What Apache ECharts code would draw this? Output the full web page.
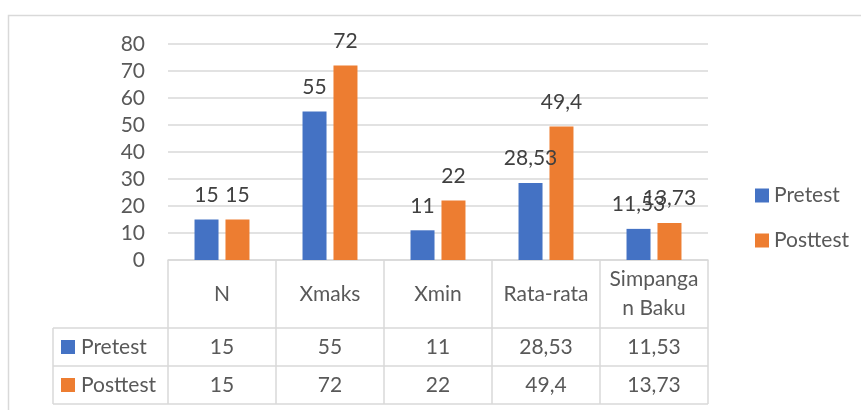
<!DOCTYPE html>
<html>
<head>
<meta charset="utf-8">
<script src="https://cdn.jsdelivr.net/npm/echarts@6/dist/echarts.min.js"></script>
<style>
    html, body { margin: 0; padding: 0; background: #fff; }
    #chart { width: 861px; height: 410px; }
</style>
</head>
<body>
<div id="chart"></div>
<script>
// data
var categories = ['N', 'Xmaks', 'Xmin', 'Rata-rata', 'Simpangan Baku'];
var seriesNames = ['Pretest', 'Posttest'];
var pretest = [15, 55, 11, 28.53, 11.53];
var posttest = [15, 72, 22, 49.4, 13.73];
var yMin = 0, yMax = 80, yStep = 10;

var colors = ['#4472C4', '#ED7D31'];
var FONT = 'Lato, "Open Sans", sans-serif';
var GRID_COLOR = '#D9D9D9';
var TEXT_COLOR = '#595959';

// 1,5 -> "1,5" (koma desimal)
function fmt(v) {
    return String(v).replace('.', ',');
}

var chart = echarts.init(document.getElementById('chart'));

chart.setOption({
    animation: false,
    color: colors,
    textStyle: { fontFamily: FONT },
    grid: {
        left: 168,
        right: 153,
        top: 44,
        bottom: 150
    },
    legend: {
        data: seriesNames,
        orient: 'vertical',
        left: 750,
        top: 180,
        icon: 'rect',
        itemWidth: 14,
        itemHeight: 14,
        itemGap: 24,
        textStyle: { fontSize: 21, color: TEXT_COLOR, fontFamily: FONT }
    },
    xAxis: {
        type: 'category',
        data: categories,
        axisLine: { show: true, lineStyle: { color: GRID_COLOR, width: 1.5 } },
        axisTick: { show: false },
        axisLabel: { show: false }
    },
    yAxis: {
        type: 'value',
        min: yMin,
        max: yMax,
        interval: yStep,
        axisLine: { show: false },
        axisTick: { show: false },
        axisLabel: { fontSize: 21, color: TEXT_COLOR, margin: 23, fontFamily: FONT },
        splitLine: { lineStyle: { color: GRID_COLOR, width: 1.5 } }
    },
    series: [
        {
            name: seriesNames[0],
            type: 'bar',
            data: pretest,
            barWidth: 24,
            barGap: '29%',
            label: {
                show: true,
                position: 'top',
                distance: 14,
                fontSize: 21,
                color: '#404040',
                fontFamily: FONT,
                formatter: function(p) { return fmt(p.value); }
            }
        },
        {
            name: seriesNames[1],
            type: 'bar',
            data: posttest,
            barWidth: 24,
            label: {
                show: true,
                position: 'top',
                distance: 14,
                fontSize: 21,
                color: '#404040',
                fontFamily: FONT,
                formatter: function(p) { return fmt(p.value); }
            }
        }
    ]
});

// tabel data di bawah grafik
function buildTable() {
    var c0 = chart.convertToPixel({ xAxisIndex: 0 }, categories[0]);
    var c1 = chart.convertToPixel({ xAxisIndex: 0 }, categories[1]);
    var colW = c1 - c0;
    var left = c0 - colW / 2;
    var right = left + colW * categories.length;
    var top = chart.convertToPixel({ yAxisIndex: 0 }, yMin);
    var headH = 68, rowH = 38, keyW = 115;
    var rowTop = [top + headH, top + headH + rowH];
    var bottom = top + headH + rowH * 2;
    var keyLeft = left - keyW;

    var els = [];
    var line = function(x1, y1, x2, y2) {
        els.push({
            type: 'line',
            shape: { x1: x1, y1: y1, x2: x2, y2: y2 },
            style: { stroke: GRID_COLOR, lineWidth: 1.5 },
            silent: true
        });
    };
    var text = function(str, x, y, align, extra) {
        var st = {
            text: str, x: x, y: y,
            textAlign: align, textVerticalAlign: 'middle',
            font: '21px ' + FONT, fill: TEXT_COLOR
        };
        for (var k in extra) st[k] = extra[k];
        els.push({ type: 'text', style: st, silent: true });
    };

    // garis
    for (var i = 0; i <= categories.length; i++) {
        line(left + colW * i, top, left + colW * i, bottom);
    }
    line(keyLeft, rowTop[0], keyLeft, bottom);
    line(keyLeft, rowTop[0], right, rowTop[0]);
    line(keyLeft, rowTop[1], right, rowTop[1]);
    line(keyLeft, bottom, right, bottom);

    // header
    categories.forEach(function(cat, i) {
        text(cat, left + colW * (i + 0.5), top + headH / 2, 'center', {
            width: colW - 12, overflow: 'breakAll', lineHeight: 29
        });
    });

    // baris nilai
    [pretest, posttest].forEach(function(vals, r) {
        var cy = rowTop[r] + rowH / 2;
        els.push({
            type: 'rect',
            shape: { x: keyLeft + 8, y: cy - 7, width: 14, height: 14 },
            style: { fill: colors[r] },
            silent: true
        });
        text(seriesNames[r], keyLeft + 28, cy, 'left');
        vals.forEach(function(v, i) {
            text(fmt(v), left + colW * (i + 0.5), cy, 'center');
        });
    });

    // bingkai chart
    els.push({
        type: 'rect',
        shape: { x: 8.5, y: 15.5, width: 1000, height: 1000 },
        style: { fill: null, stroke: GRID_COLOR, lineWidth: 1.5 },
        silent: true,
        z: -1
    });

    chart.setOption({ graphic: els });
}

buildTable();
</script>
</body>
</html>
